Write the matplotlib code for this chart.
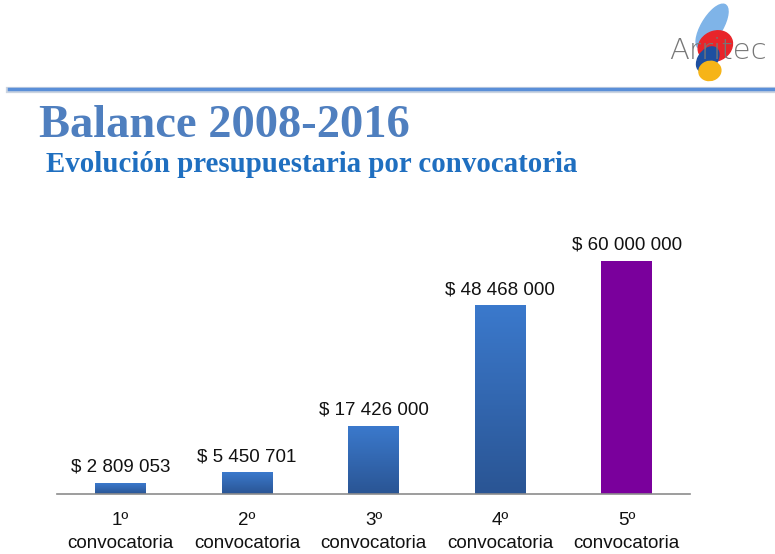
import numpy as np
import matplotlib.pyplot as plt
from matplotlib.patches import Ellipse

# datos
categorias = ['1º\nconvocatoria', '2º\nconvocatoria', '3º\nconvocatoria',
              '4º\nconvocatoria', '5º\nconvocatoria']
presupuesto = [2809053, 5450701, 17426000, 48468000, 60000000]
etiquetas = ['$ 2 809 053', '$ 5 450 701', '$ 17 426 000', '$ 48 468 000', '$ 60 000 000']

fig = plt.figure(figsize=(7.75, 5.54), dpi=100)

# linea superior
fig.add_artist(plt.Line2D([0.012, 1.0], [0.837, 0.837], color='#a9b8cc', lw=4.5, alpha=0.6))
fig.add_artist(plt.Line2D([0.012, 1.0], [0.840, 0.840], color='#5a8fd8', lw=2.5))

# titulos
fig.text(0.050, 0.752, 'Balance 2008-2016', family='Liberation Serif', weight='bold',
         fontsize=33.5, color='#4f7fbf', va='baseline')
fig.text(0.059, 0.690, 'Evolución presupuestaria por convocatoria', family='Liberation Serif',
         weight='bold', fontsize=20.8, color='#1f6fc0', va='baseline')

# logo aproximado
logo = fig.add_axes([0.86, 0.84, 0.14, 0.16])
logo.set_xlim(0, 1)
logo.set_ylim(0, 1)
logo.axis('off')
logo.add_patch(Ellipse((0.42, 0.70), 0.20, 0.55, angle=-25, color='#7fb4e8'))
logo.add_patch(Ellipse((0.45, 0.48), 0.30, 0.36, angle=-30, color='#e8252a'))
logo.add_patch(Ellipse((0.38, 0.33), 0.18, 0.30, angle=-25, color='#1d4fa0'))
logo.add_patch(Ellipse((0.40, 0.20), 0.20, 0.22, angle=-20, color='#f6b417'))
logo.text(0.02, 0.42, 'Arritec', fontsize=21, color='#777777', family='DejaVu Sans',
          weight='light', va='center', zorder=5)

# grafico
ax = fig.add_axes([57 / 775, 60 / 554, 633 / 775, 264 / 554])
x = np.arange(len(presupuesto))
ancho = 0.4
grad = np.linspace(0, 1, 100).reshape(-1, 1)
azul = plt.matplotlib.colors.LinearSegmentedColormap.from_list('azul', ['#2a5594', '#3b79cc'])
for i, v in enumerate(presupuesto):
    if i == len(presupuesto) - 1:
        ax.bar(x[i], v, width=ancho, color='#7a009c', zorder=2)
    else:
        ax.imshow(grad, extent=[x[i] - ancho / 2, x[i] + ancho / 2, 0, v], origin='lower',
                  cmap=azul, aspect='auto', zorder=2)
    ax.text(x[i], v + 2.0e6, etiquetas[i], ha='center', va='bottom', fontsize=13.5,
            family='Liberation Sans', color='#111111')

ax.set_xlim(-0.5, 4.5)
ax.set_ylim(0, 68e6)
ax.set_xticks(x)
ax.set_xticklabels(categorias, fontsize=13.5, family='Liberation Sans', color='#111111',
                   linespacing=1.45)
ax.tick_params(axis='x', length=0, pad=13)
ax.set_yticks([])
for s in ['top', 'right', 'left']:
    ax.spines[s].set_visible(False)
ax.spines['bottom'].set_color('#8c8c8c')
ax.spines['bottom'].set_linewidth(1.2)
ax.patch.set_alpha(0)

fig.savefig('out.png', dpi=100)
